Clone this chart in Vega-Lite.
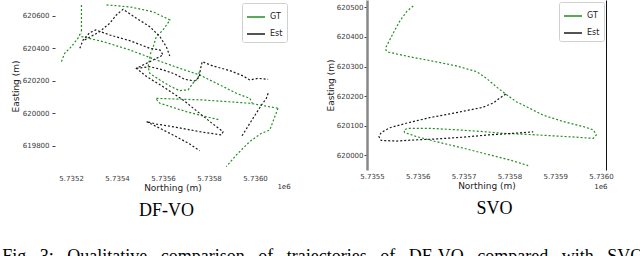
{
  "$schema": "https://vega.github.io/schema/vega-lite/v6.json",
  "padding": {"left": 2, "top": 0, "right": 0, "bottom": 0},
  "bounds": "flush",
  "spacing": 77,
  "background": "white",
  "title": {"text": "Fig.\u00a0 3:\u00a0\u00a0 Qualitative\u00a0\u00a0 comparison\u00a0\u00a0 of\u00a0\u00a0 trajectories\u00a0\u00a0 of\u00a0\u00a0 DF-VO\u00a0\u00a0 compared\u00a0\u00a0 with\u00a0\u00a0 SVO", "orient": "bottom", "anchor": "start", "frame": "bounds", "offset": 28, "dx": -9, "font": "Liberation Serif", "fontSize": 18, "fontWeight": "normal", "color": "#000"},
  "config": {
    "view": {"stroke": null},
    "axis": {"grid": false, "labelFont": "DejaVu Sans", "labelFontSize": 7, "labelColor": "#3a3a3a", "titleFont": "DejaVu Sans", "titleFontSize": 9, "titleFontWeight": "normal", "titleColor": "#222", "tickColor": "#444"}
  },
  "resolve": {"scale": {"color": "independent"}, "legend": {"color": "independent"}},
  "datasets": {
    "dfvo": [
      {"s":"GT","g":"G1","i":0,"n":5735354,"e":620668},
      {"s":"GT","g":"G1","i":1,"n":5735457,"e":620655},
      {"s":"GT","g":"G1","i":2,"n":5735557,"e":620625},
      {"s":"GT","g":"G1","i":3,"n":5735630,"e":620575},
      {"s":"GT","g":"G1","i":4,"n":5735600,"e":620514},
      {"s":"GT","g":"G1","i":5,"n":5735570,"e":620471},
      {"s":"GT","g":"G1","i":6,"n":5735557,"e":620409},
      {"s":"GT","g":"G1","i":7,"n":5735543,"e":620360},
      {"s":"GT","g":"G2","i":0,"n":5735543,"e":620350},
      {"s":"GT","g":"G2","i":1,"n":5735535,"e":620288},
      {"s":"GT","g":"G2","i":2,"n":5735542,"e":620247},
      {"s":"GT","g":"G2","i":3,"n":5735586,"e":620206},
      {"s":"GT","g":"G2","i":4,"n":5735629,"e":620169},
      {"s":"GT","g":"G2","i":5,"n":5735672,"e":620141},
      {"s":"GT","g":"G2","i":6,"n":5735709,"e":620145},
      {"s":"GT","g":"G2","i":7,"n":5735730,"e":620186},
      {"s":"GT","g":"G2","i":8,"n":5735752,"e":620216},
      {"s":"GT","g":"G2","i":9,"n":5735759,"e":620268},
      {"s":"GT","g":"G3","i":0,"n":5735245,"e":620473},
      {"s":"GT","g":"G3","i":1,"n":5735339,"e":620442},
      {"s":"GT","g":"G3","i":2,"n":5735455,"e":620391},
      {"s":"GT","g":"G3","i":3,"n":5735571,"e":620329},
      {"s":"GT","g":"G3","i":4,"n":5735672,"e":620278},
      {"s":"GT","g":"G3","i":5,"n":5735759,"e":620237},
      {"s":"GT","g":"G3","i":6,"n":5735832,"e":620186},
      {"s":"GT","g":"G3","i":7,"n":5735919,"e":620124},
      {"s":"GT","g":"G3","i":8,"n":5735977,"e":620093},
      {"s":"GT","g":"G3","i":9,"n":5735988,"e":620063},
      {"s":"GT","g":"G4","i":0,"n":5735571,"e":620093},
      {"s":"GT","g":"G4","i":1,"n":5735774,"e":620083},
      {"s":"GT","g":"G4","i":2,"n":5735977,"e":620063},
      {"s":"GT","g":"G4","i":3,"n":5736100,"e":620032},
      {"s":"GT","g":"G5","i":0,"n":5735571,"e":620087},
      {"s":"GT","g":"G5","i":1,"n":5735586,"e":620063},
      {"s":"GT","g":"G5","i":2,"n":5735701,"e":620011},
      {"s":"GT","g":"G5","i":3,"n":5735846,"e":619960},
      {"s":"GT","g":"G6","i":0,"n":5736100,"e":620032},
      {"s":"GT","g":"G6","i":1,"n":5736086,"e":619981},
      {"s":"GT","g":"G6","i":2,"n":5736064,"e":619898},
      {"s":"GT","g":"G6","i":3,"n":5736028,"e":619878},
      {"s":"GT","g":"G6","i":4,"n":5736006,"e":619857},
      {"s":"GT","g":"G6","i":5,"n":5735977,"e":619827},
      {"s":"GT","g":"G6","i":6,"n":5735919,"e":619745},
      {"s":"GT","g":"G6","i":7,"n":5735875,"e":619673},
      {"s":"GT","g":"G7","i":0,"n":5735158,"e":620319},
      {"s":"GT","g":"G7","i":1,"n":5735172,"e":620370},
      {"s":"GT","g":"G7","i":2,"n":5735201,"e":620411},
      {"s":"GT","g":"G7","i":3,"n":5735230,"e":620463},
      {"s":"GT","g":"G7","i":4,"n":5735245,"e":620504},
      {"s":"GT","g":"G8","i":0,"n":5735245,"e":620668},
      {"s":"GT","g":"G8","i":1,"n":5735245,"e":620493},
      {"s":"Est","g":"B1","i":0,"n":5735238,"e":620401},
      {"s":"Est","g":"B1","i":1,"n":5735252,"e":620452},
      {"s":"Est","g":"B1","i":2,"n":5735281,"e":620497},
      {"s":"Est","g":"B1","i":3,"n":5735307,"e":620514},
      {"s":"Est","g":"B1","i":4,"n":5735368,"e":620483},
      {"s":"Est","g":"B1","i":5,"n":5735455,"e":620448},
      {"s":"Est","g":"B1","i":6,"n":5735542,"e":620401},
      {"s":"Est","g":"B1","i":7,"n":5735586,"e":620391},
      {"s":"Est","g":"B1","i":8,"n":5735600,"e":620360},
      {"s":"Est","g":"B1","i":9,"n":5735557,"e":620329},
      {"s":"Est","g":"B1","i":10,"n":5735513,"e":620298},
      {"s":"Est","g":"B1","i":11,"n":5735484,"e":620278},
      {"s":"Est","g":"B1","i":12,"n":5735528,"e":620227},
      {"s":"Est","g":"B1","i":13,"n":5735600,"e":620165},
      {"s":"Est","g":"B1","i":14,"n":5735687,"e":620083},
      {"s":"Est","g":"B1","i":15,"n":5735759,"e":620001},
      {"s":"Est","g":"B1","i":16,"n":5735817,"e":619935},
      {"s":"Est","g":"B1","i":17,"n":5735861,"e":619888},
      {"s":"Est","g":"B1","i":18,"n":5735854,"e":619868},
      {"s":"Est","g":"B1","i":19,"n":5735759,"e":619888},
      {"s":"Est","g":"B1","i":20,"n":5735658,"e":619915},
      {"s":"Est","g":"B1","i":21,"n":5735571,"e":619935},
      {"s":"Est","g":"B1","i":22,"n":5735528,"e":619950},
      {"s":"Est","g":"B1","i":23,"n":5735586,"e":619909},
      {"s":"Est","g":"B1","i":24,"n":5735658,"e":619857},
      {"s":"Est","g":"B1","i":25,"n":5735716,"e":619812},
      {"s":"Est","g":"B1","i":26,"n":5735759,"e":619771},
      {"s":"Est","g":"B2","i":0,"n":5735259,"e":620452},
      {"s":"Est","g":"B2","i":1,"n":5735325,"e":620504},
      {"s":"Est","g":"B2","i":2,"n":5735368,"e":620555},
      {"s":"Est","g":"B2","i":3,"n":5735397,"e":620606},
      {"s":"Est","g":"B2","i":4,"n":5735426,"e":620641},
      {"s":"Est","g":"B2","i":5,"n":5735484,"e":620586},
      {"s":"Est","g":"B2","i":6,"n":5735542,"e":620534},
      {"s":"Est","g":"B2","i":7,"n":5735586,"e":620473},
      {"s":"Est","g":"B2","i":8,"n":5735614,"e":620411},
      {"s":"Est","g":"B2","i":9,"n":5735629,"e":620354},
      {"s":"Est","g":"B3","i":0,"n":5735484,"e":620278},
      {"s":"Est","g":"B3","i":1,"n":5735542,"e":620288},
      {"s":"Est","g":"B3","i":2,"n":5735600,"e":620268},
      {"s":"Est","g":"B3","i":3,"n":5735651,"e":620243},
      {"s":"Est","g":"B3","i":4,"n":5735694,"e":620210},
      {"s":"Est","g":"B3","i":5,"n":5735738,"e":620200},
      {"s":"Est","g":"B3","i":6,"n":5735757,"e":620223},
      {"s":"Est","g":"B3","i":7,"n":5735762,"e":620268},
      {"s":"Est","g":"B3","i":8,"n":5735770,"e":620319},
      {"s":"Est","g":"B3","i":9,"n":5735817,"e":620292},
      {"s":"Est","g":"B3","i":10,"n":5735890,"e":620264},
      {"s":"Est","g":"B3","i":11,"n":5735948,"e":620231},
      {"s":"Est","g":"B3","i":12,"n":5735977,"e":620206},
      {"s":"Est","g":"B3","i":13,"n":5736013,"e":620216},
      {"s":"Est","g":"B3","i":14,"n":5736057,"e":620210},
      {"s":"Est","g":"B4","i":0,"n":5736057,"e":620124},
      {"s":"Est","g":"B4","i":1,"n":5736049,"e":620093},
      {"s":"Est","g":"B4","i":2,"n":5736028,"e":620052},
      {"s":"Est","g":"B4","i":3,"n":5735991,"e":619970},
      {"s":"Est","g":"B4","i":4,"n":5735941,"e":619857}
    ],
    "svo": [
      {"s":"GT","g":"R1","i":0,"n":5735590,"e":620505},
      {"s":"GT","g":"R1","i":1,"n":5735575,"e":620485},
      {"s":"GT","g":"R1","i":2,"n":5735560,"e":620452},
      {"s":"GT","g":"R1","i":3,"n":5735546,"e":620412},
      {"s":"GT","g":"R1","i":4,"n":5735531,"e":620367},
      {"s":"GT","g":"R1","i":5,"n":5735530,"e":620356},
      {"s":"GT","g":"R1","i":6,"n":5735535,"e":620349},
      {"s":"GT","g":"R1","i":7,"n":5735582,"e":620333},
      {"s":"GT","g":"R1","i":8,"n":5735640,"e":620316},
      {"s":"GT","g":"R1","i":9,"n":5735684,"e":620302},
      {"s":"GT","g":"R1","i":10,"n":5735728,"e":620283},
      {"s":"GT","g":"R1","i":11,"n":5735750,"e":620260},
      {"s":"GT","g":"R1","i":12,"n":5735771,"e":620232},
      {"s":"GT","g":"R1","i":13,"n":5735790,"e":620209},
      {"s":"GT","g":"R1","i":14,"n":5735815,"e":620181},
      {"s":"GT","g":"R1","i":15,"n":5735844,"e":620159},
      {"s":"GT","g":"R1","i":16,"n":5735873,"e":620136},
      {"s":"GT","g":"R1","i":17,"n":5735917,"e":620114},
      {"s":"GT","g":"R1","i":18,"n":5735961,"e":620097},
      {"s":"GT","g":"R1","i":19,"n":5735983,"e":620086},
      {"s":"GT","g":"R1","i":20,"n":5735990,"e":620069},
      {"s":"GT","g":"R1","i":21,"n":5735983,"e":620057},
      {"s":"GT","g":"R1","i":22,"n":5735946,"e":620061},
      {"s":"GT","g":"R1","i":23,"n":5735902,"e":620065},
      {"s":"GT","g":"R1","i":24,"n":5735844,"e":620070},
      {"s":"GT","g":"R1","i":25,"n":5735786,"e":620074},
      {"s":"GT","g":"R1","i":26,"n":5735742,"e":620080},
      {"s":"GT","g":"R1","i":27,"n":5735684,"e":620086},
      {"s":"GT","g":"R1","i":28,"n":5735626,"e":620091},
      {"s":"GT","g":"R1","i":29,"n":5735579,"e":620091},
      {"s":"GT","g":"R1","i":30,"n":5735570,"e":620086},
      {"s":"GT","g":"R1","i":31,"n":5735571,"e":620077},
      {"s":"GT","g":"R1","i":32,"n":5735597,"e":620063},
      {"s":"GT","g":"R1","i":33,"n":5735640,"e":620046},
      {"s":"GT","g":"R1","i":34,"n":5735699,"e":620024},
      {"s":"GT","g":"R1","i":35,"n":5735757,"e":620001},
      {"s":"GT","g":"R1","i":36,"n":5735801,"e":619984},
      {"s":"GT","g":"R1","i":37,"n":5735841,"e":619965},
      {"s":"Est","g":"R2","i":0,"n":5735792,"e":620207},
      {"s":"Est","g":"R2","i":1,"n":5735779,"e":620193},
      {"s":"Est","g":"R2","i":2,"n":5735764,"e":620176},
      {"s":"Est","g":"R2","i":3,"n":5735742,"e":620162},
      {"s":"Est","g":"R2","i":4,"n":5735684,"e":620144},
      {"s":"Est","g":"R2","i":5,"n":5735626,"e":620127},
      {"s":"Est","g":"R2","i":6,"n":5735579,"e":620110},
      {"s":"Est","g":"R2","i":7,"n":5735539,"e":620093},
      {"s":"Est","g":"R2","i":8,"n":5735520,"e":620077},
      {"s":"Est","g":"R2","i":9,"n":5735515,"e":620063},
      {"s":"Est","g":"R2","i":10,"n":5735520,"e":620050},
      {"s":"Est","g":"R2","i":11,"n":5735553,"e":620048},
      {"s":"Est","g":"R2","i":12,"n":5735597,"e":620052},
      {"s":"Est","g":"R2","i":13,"n":5735640,"e":620055},
      {"s":"Est","g":"R2","i":14,"n":5735699,"e":620061},
      {"s":"Est","g":"R2","i":15,"n":5735757,"e":620069},
      {"s":"Est","g":"R2","i":16,"n":5735808,"e":620074},
      {"s":"Est","g":"R2","i":17,"n":5735852,"e":620079}
    ]
  },
  "hconcat": [
    {
      "width": 235,
      "height": 172,
      "title": {"text": "DF-VO", "orient": "bottom", "frame": "group", "anchor": "middle", "offset": 10, "dx": -6, "font": "Liberation Serif", "fontSize": 18, "fontWeight": "normal", "color": "#000"},
      "layer": [
        {
          "data": {"name": "dfvo"},
          "mark": {"type": "line", "strokeWidth": 1.2, "strokeDash": [2, 2], "clip": true},
          "encoding": {
            "x": {"field": "n", "type": "quantitative", "scale": {"domain": [5735130, 5736152], "nice": false, "zero": false},
                  "axis": {"values": [5735200, 5735400, 5735600, 5735800, 5736000], "labelExpr": "format(datum.value/1e6, '.4f')", "title": "Northing (m)", "domain": false, "ticks": false, "labelPadding": 2, "titlePadding": 2}},
            "y": {"field": "e", "type": "quantitative", "scale": {"domain": [619640, 620698], "nice": false, "zero": false},
                  "axis": {"values": [619800, 620000, 620200, 620400, 620600], "format": "d", "title": "Easting (m)", "domain": false, "tickSize": 3, "labelPadding": 3, "titlePadding": 2}},
            "color": {"field": "s", "type": "nominal", "scale": {"domain": ["GT", "Est"], "range": ["#1f8f1f", "#1a1a1a"]},
                      "legend": {"title": null, "orient": "top-right", "offset": 3, "padding": 4, "strokeColor": "#d0d0d0", "fillColor": "white", "cornerRadius": 2, "symbolType": "stroke", "symbolSize": 324, "symbolStrokeWidth": 1.5, "labelFontSize": 8, "labelFont": "DejaVu Sans", "labelColor": "#222", "rowPadding": 3,
                                 "encode": {"symbols": {"enter": {"strokeDash": {"value": []}, "stroke": {"signal": "datum.value === 'Est' ? '#e8e8e8' : '#1f8f1f'"}}, "update": {"strokeDash": {"value": []}, "stroke": {"signal": "datum.value === 'Est' ? '#e8e8e8' : '#1f8f1f'"}}}}}},
            "detail": {"field": "g"},
            "order": {"field": "i", "type": "quantitative"}
          }
        },
        {
          "data": {"values": [{}]},
          "mark": {"type": "text", "text": "1e6", "fontSize": 7, "font": "DejaVu Sans", "color": "#333"},
          "encoding": {
            "x": {"datum": 5736126, "type": "quantitative", "scale": {"domain": [5735130, 5736152], "nice": false, "zero": false}},
            "y": {"datum": 619548, "type": "quantitative", "scale": {"domain": [619640, 620698], "nice": false, "zero": false}}
          }
        }
      ]
    },
    {
      "width": 239,
      "height": 170,
      "title": {"text": "SVO", "orient": "bottom", "frame": "group", "anchor": "middle", "offset": 10, "dx": 8, "font": "Liberation Serif", "fontSize": 18, "fontWeight": "normal", "color": "#000"},
      "resolve": {"axis": {"y": "independent"}},
      "layer": [
        {
          "data": {"name": "svo"},
          "mark": {"type": "line", "strokeWidth": 1.2, "strokeDash": [2, 2], "clip": true},
          "encoding": {
            "x": {"field": "n", "type": "quantitative", "scale": {"domain": [5735489, 5736011], "nice": false, "zero": false},
                  "axis": {"values": [5735500, 5735600, 5735700, 5735800, 5735900, 5736000], "labelExpr": "format(datum.value/1e6, '.4f')", "title": "Northing (m)", "domain": false, "ticks": false, "labelPadding": 2, "titlePadding": 2}},
            "y": {"field": "e", "type": "quantitative", "scale": {"domain": [619950, 620525], "nice": false, "zero": false},
                  "axis": {"values": [620000, 620100, 620200, 620300, 620400, 620500], "format": "d", "title": "Easting (m)", "domain": true, "domainColor": "#888", "domainWidth": 2.5, "tickSize": 3, "labelPadding": 1, "titlePadding": 1}},
            "color": {"field": "s", "type": "nominal", "scale": {"domain": ["GT", "Est"], "range": ["#1f8f1f", "#1a1a1a"]},
                      "legend": {"title": null, "orient": "top-right", "offset": 2, "padding": 4, "strokeColor": "#d0d0d0", "fillColor": "white", "cornerRadius": 2, "symbolType": "stroke", "symbolSize": 324, "symbolStrokeWidth": 1.5, "labelFontSize": 8, "labelFont": "DejaVu Sans", "labelColor": "#222", "rowPadding": 3,
                                 "encode": {"symbols": {"enter": {"strokeDash": {"value": []}, "stroke": {"signal": "datum.value === 'Est' ? '#e8e8e8' : '#1f8f1f'"}}, "update": {"strokeDash": {"value": []}, "stroke": {"signal": "datum.value === 'Est' ? '#e8e8e8' : '#1f8f1f'"}}}}}},
            "detail": {"field": "g"},
            "order": {"field": "i", "type": "quantitative"}
          }
        },
        {
          "data": {"values": [{}]},
          "mark": {"type": "text", "text": "1e6", "fontSize": 7, "font": "DejaVu Sans", "color": "#333"},
          "encoding": {
            "x": {"datum": 5736000, "type": "quantitative", "scale": {"domain": [5735489, 5736011], "nice": false, "zero": false}},
            "y": {"datum": 619892, "type": "quantitative", "scale": {"domain": [619950, 620525], "nice": false, "zero": false},
                  "axis": {"orient": "right", "labels": false, "ticks": false, "title": null, "domain": true, "domainColor": "#111", "domainWidth": 1}}
          }
        }
      ]
    }
  ]
}
